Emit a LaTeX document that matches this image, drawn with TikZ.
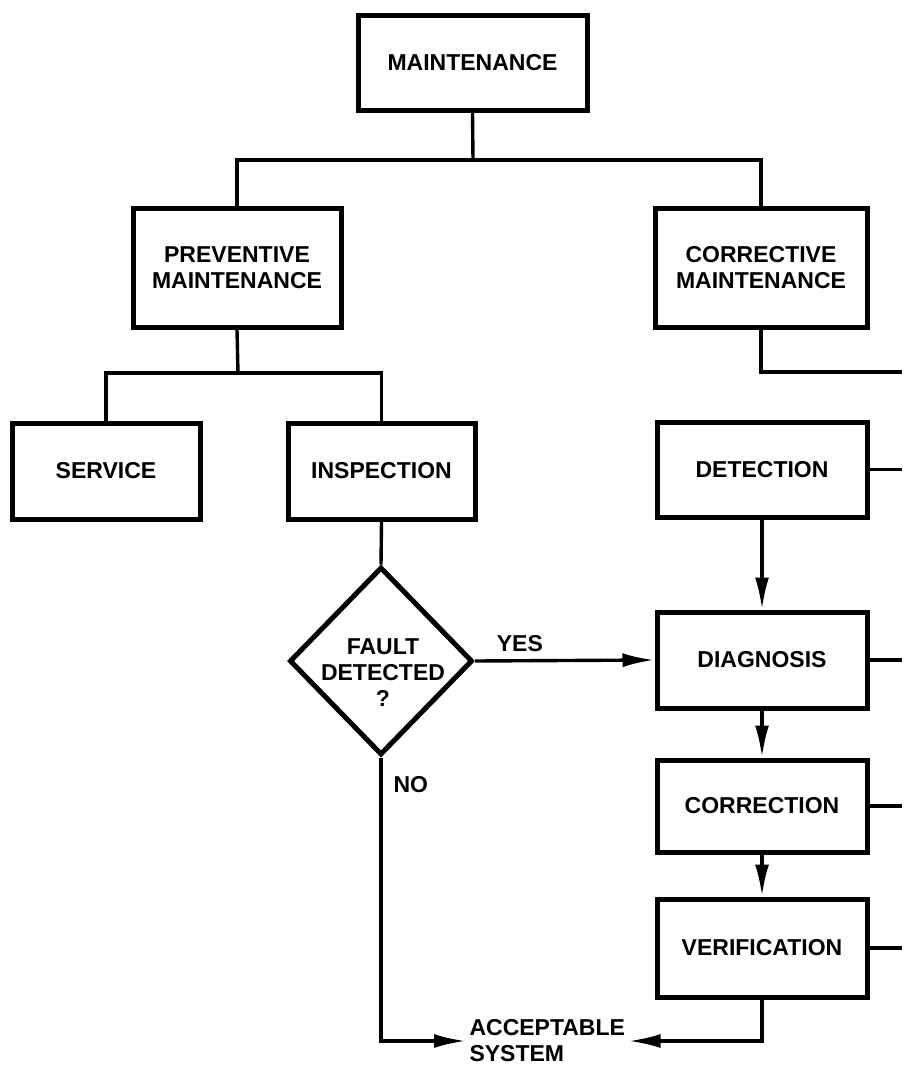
\documentclass[tikz,border=0pt]{standalone}
\usepackage{fontspec}
\setmainfont{Liberation Sans}
\usetikzlibrary{shapes.geometric,arrows.meta}

\begin{document}
\begin{tikzpicture}[x=1pt,y=-1pt,
  font=\fontsize{23}{26}\selectfont\bfseries,
  box/.style={draw,line width=5pt,align=center,inner sep=0pt},
  decision/.style={draw,diamond,line width=5pt,inner sep=0pt,minimum width=183pt,minimum height=188pt},
  link/.style={line width=3.4pt},
  arr/.style={link,-{Latex[length=32pt,width=14pt]}}]
\fill[white] (0,0) rectangle (902,1068);
% boxes
\node[box,minimum width=229pt,minimum height=95pt] (maint) at (472.5,62.5) {MAINTENANCE};
\node[box,minimum width=208pt,minimum height=119pt] (prev) at (237,267.5) {PREVENTIVE\\MAINTENANCE};
\node[box,minimum width=212pt,minimum height=119pt] (corr) at (761,267.5) {CORRECTIVE\\MAINTENANCE};
\node[box,minimum width=188pt,minimum height=96pt] (serv) at (106,471) {SERVICE};
\node[box,minimum width=187pt,minimum height=96pt] (insp) at (381.5,471) {INSPECTION};
\node[box,minimum width=210pt,minimum height=95pt] (detect) at (762,469.5) {DETECTION};
\node[box,minimum width=210pt,minimum height=96pt] (diag) at (762,660) {DIAGNOSIS};
\node[box,minimum width=210pt,minimum height=92pt] (correct) at (762,806) {CORRECTION};
\node[box,minimum width=210pt,minimum height=98pt] (verif) at (762,948) {VERIFICATION};
\node[decision] (fault) at (381,661) {};
\node[align=center] (faulttxt) at (383,673) {FAULT\\DETECTED\\?};
\node[align=left,anchor=west] (accept) at (466,1041) {ACCEPTABLE\\SYSTEM};
\node[anchor=west] (no) at (390,785) {NO};
% tree
\coordinate (top split) at (473,160);
\coordinate (pm split) at (238,373);
\coordinate (cm rail) at (902,372);
\draw[link] (maint.south) -- (top split);
\draw[link] (prev.north) |- (top split) -| (corr.north);
\draw[link] (prev.south) -- (pm split);
\draw[link] (serv.north) |- (pm split) -| (insp.north);
\draw[link] (corr.south) |- (cm rail);
% stubs to the right edge
\draw[link] (detect.east) -- (detect.east -| cm rail);
\draw[link] (diag.east) -- (diag.east -| cm rail);
\draw[link] (correct.east) -- (correct.east -| cm rail);
\draw[link] (verif.east) -- (verif.east -| cm rail);
% flow
\draw[link] (insp.south) -- (fault.north);
\draw[arr] (fault.east) -- (diag.west) node[pos=.25,above,yshift=4pt]{YES};
\draw[arr] (detect.south) -- (diag.north);
\draw[arr] (diag.south) -- (correct.north);
\draw[arr] (correct.south) -- (verif.north);
\draw[arr] (fault.south) |- (accept.west);
\draw[arr] (verif.south) |- (accept.east);
\end{tikzpicture}
\end{document}
